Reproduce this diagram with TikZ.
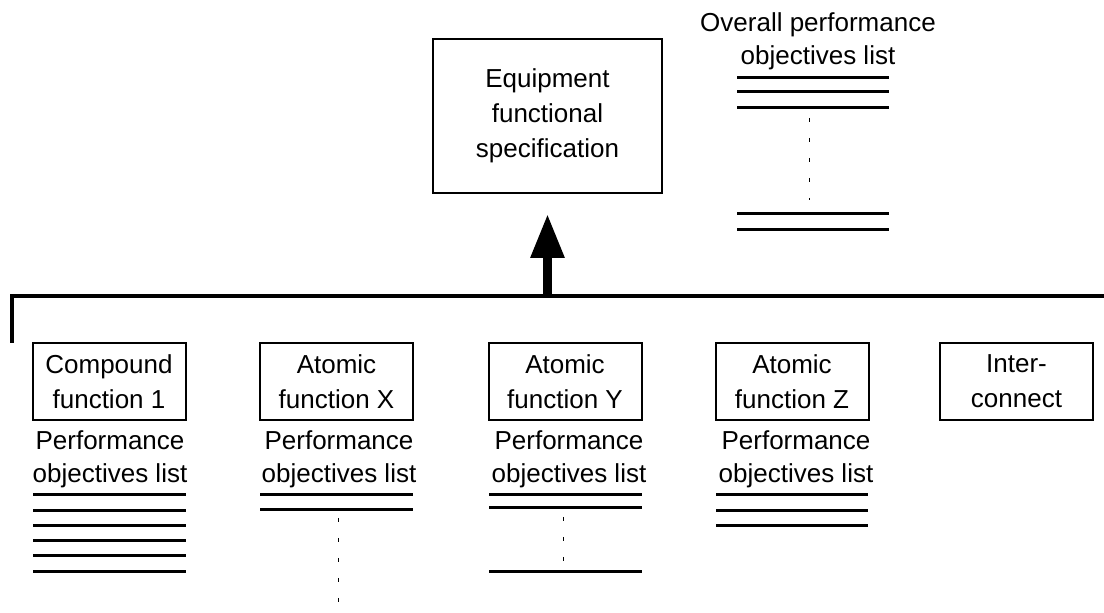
\documentclass[tikz,border=0pt]{standalone}
\usepackage{fontspec}
\setmainfont{Liberation Sans}
\usetikzlibrary{arrows.meta}
\tikzset{>=latex}
\tikzstyle{fbox} = [draw = black, line width = 1pt, align = center, minimum width = 76.5pt, minimum height = 38.5pt, inner sep = 0pt, font = \fontsize{13}{17.5}\selectfont]
\tikzstyle{plabel} = [align = center, inner sep = 0pt, font = \fontsize{13}{16.5}\selectfont]
\tikzstyle{objline} = [line width = 1.5pt]
\tikzstyle{skipline} = [line width = 0.5pt, dash pattern = on 2pt off 8pt]

\begin{document}
\begin{tikzpicture}[x = 0.5pt, y = -0.5pt]
\useasboundingbox (0, 0) rectangle (1104, 613);
\node [fbox, minimum width = 114.5pt, minimum height = 77pt] (spec) at (547.5, 116) {Equipment\\functional\\specification};
\node [plabel] (overall) at (818, 41) {Overall performance\\objectives list};
\node [fbox] (comp1) at (109, 381.5) {Compound\\function 1};
\node [fbox] (atomX) at (336.5, 381.5) {Atomic\\function X};
\node [fbox] (atomY) at (565, 381.5) {Atomic\\function Y};
\node [fbox] (atomZ) at (792, 381.5) {Atomic\\function Z};
\node [fbox] (inter) at (1016.5, 381.5) {Inter-\\connect};
\node [plabel] (perf1) at (110, 459) {Performance\\objectives list};
\node [plabel] (perfX) at (339, 459) {Performance\\objectives list};
\node [plabel] (perfY) at (569, 459) {Performance\\objectives list};
\node [plabel] (perfZ) at (796, 459) {Performance\\objectives list};
\coordinate (busL) at (12, 343);
\coordinate (busC) at (12, 296);
\coordinate (busR) at (1104, 296);
\coordinate (bustap) at (547.5, 296);
\draw [line width = 1.6pt] (busL) -- (busC) -- (busR);
\draw [line width = 4.5pt, -{Triangle[length = 22pt, width = 16pt]}, shorten > = 10pt] (bustap) -- (spec.south);
% objectives lists
\foreach \y in {78, 92, 108, 214, 230}
  \draw [objline] (737, \y) -- (889, \y);
\draw [skipline] (809, 118) -- (809, 200);
\foreach \y in {495, 511, 526, 541, 556, 572}
  \draw [objline] (33, \y) -- (186, \y);
\foreach \y in {495, 510}
  \draw [objline] (260, \y) -- (413, \y);
\draw [skipline] (338, 518) -- (338, 602);
\foreach \y in {495, 508, 572}
  \draw [objline] (489, \y) -- (642, \y);
\draw [skipline] (563, 517) -- (563, 562);
\foreach \y in {495, 511, 526}
  \draw [objline] (716, \y) -- (868, \y);
\end{tikzpicture}
\end{document}
